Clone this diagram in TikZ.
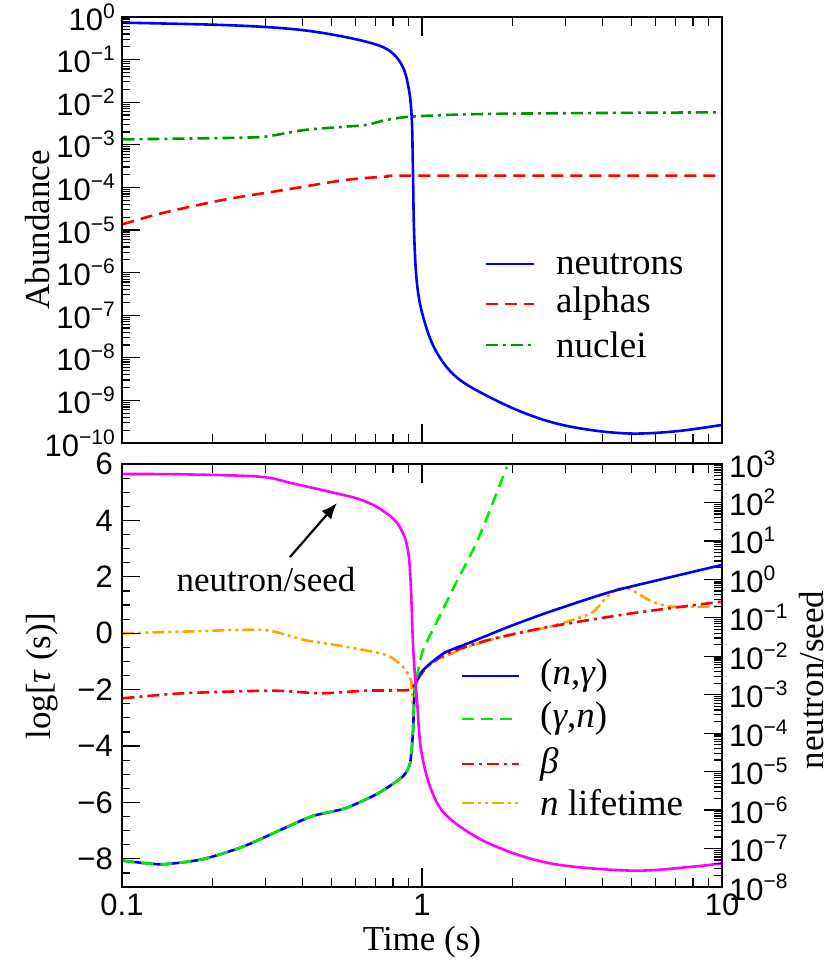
\documentclass[tikz,border=0pt]{standalone}
\usepackage{fontspec}
\setmainfont{Liberation Serif}
\newfontfamily\ticksf{Liberation Sans}
\usetikzlibrary{arrows.meta}
\begin{document}
\begin{tikzpicture}[x=1pt,y=-1pt,
  curve/.style={line width=2.6pt,line join=round},
  frame/.style={line width=2.6pt},
  tck/.style={line width=1.2pt},
  dsh/.style={dash pattern=on 12pt off 7pt},
  dashdot/.style={dash pattern=on 12pt off 5pt on 3pt off 5pt},
  dashdotdot/.style={dash pattern=on 12pt off 4pt on 3pt off 4pt on 3pt off 4pt},
  ticklab/.style={font=\ticksf\fontsize{31}{31}\selectfont,inner sep=1pt},
  titlelab/.style={font=\fontsize{35}{35}\selectfont},
  leglab/.style={font=\fontsize{37}{37}\selectfont,anchor=west,inner sep=0pt}]
\definecolor{cblue}{RGB}{0,0,255}
\definecolor{cred}{RGB}{255,0,0}
\definecolor{cdgreen}{RGB}{0,150,0}
\definecolor{cgreen}{RGB}{0,235,0}
\definecolor{cmag}{RGB}{255,0,255}
\definecolor{corange}{RGB}{255,165,0}
\useasboundingbox (0,0) rectangle (830,965);
% ---------- top panel curves ----------
\begin{scope}[shift={(100,0)},xscale=0.409,yscale=0.3333]
\draw[curve,cdgreen,dashdot] plot[smooth,tension=0.5] coordinates {(55,418)(200,416)(380,412)(430,405)(500,390)(600,380)(650,375)(700,360)(760,350)(900,343)(1100,340)(1520,337)};
\draw[curve,cred,dsh] plot[smooth,tension=0.5] coordinates {(55,673)(150,640)(300,600)(450,570)(600,540)(700,530)(770,527)(1520,527)};
\draw[curve,cblue] plot[smooth,tension=0.6] coordinates {(55,68)(300,75)(450,85)(550,100)(650,125)(705,150)(738,195)(754,260)(762,350)(765,500)(768,700)(775,850)(790,950)(820,1050)(870,1130)(950,1190)(1050,1245)(1150,1280)(1280,1300)(1400,1295)(1520,1275)};
\end{scope}
% ---------- bottom panel curves ----------
\begin{scope}[shift={(100,450)},xscale=0.409,yscale=0.3333]
\draw[curve,corange,dashdotdot] plot[smooth,tension=0.4] coordinates {(55,550)(200,545)(400,540)(500,570)(600,590)(700,615)(740,650)(760,690)(765,760)(770,720)(780,680)(810,640)(900,590)(1000,555)(1100,530)(1200,490)(1240,440)(1270,415)(1300,420)(1350,455)(1400,470)(1520,470)};
\draw[curve,cred,dashdot] plot[smooth,tension=0.4] coordinates {(55,745)(200,730)(420,722)(540,730)(650,722)(755,720)(770,700)(800,650)(850,610)(950,570)(1100,530)(1300,490)(1520,455)};
\draw[curve,cblue] plot[smooth,tension=0.4] coordinates {(55,1232)(150,1243)(250,1228)(350,1190)(450,1135)(520,1098)(600,1075)(680,1030)(740,980)(758,940)(765,850)(768,760)(772,700)(790,660)(840,610)(900,580)(1000,530)(1100,485)(1250,425)(1400,380)(1520,345)};
\draw[curve,cgreen,dsh] plot[smooth,tension=0.4] coordinates {(55,1232)(150,1243)(250,1228)(350,1190)(450,1135)(520,1098)(600,1075)(680,1030)(740,980)(758,940)(765,850)(768,760)(775,680)(790,600)(830,500)(870,400)(920,280)(960,160)(995,50)};
\draw[curve,cmag] plot[smooth,tension=0.55] coordinates {(55,72)(200,73)(390,80)(470,100)(560,125)(640,150)(695,185)(735,235)(756,330)(766,600)(775,750)(785,900)(810,1020)(850,1100)(950,1180)(1100,1240)(1300,1262)(1450,1250)(1520,1240)};
\end{scope}
% ---------- frames ----------
\draw[frame] (122,17) rectangle (722,443);
\draw[frame] (122,464) rectangle (722,887);
% x ticks
\foreach \yb/\yt in {443/17,887/464}{
  \foreach \d in {0,1}{
    \foreach \m in {2,...,9}{
      \pgfmathsetmacro\xx{122+300*(\d+log10(\m))}
      \draw[tck] (\xx,\yb)--++(0,-9);
      \draw[tck] (\xx,\yt)--++(0,9);
    }}
  \draw[tck] (422,\yb)--++(0,-19);
  \draw[tck] (422,\yt)--++(0,19);
}
% top left y ticks
\foreach \e in {-10,...,-1}{
  \foreach \m in {2,...,9}{
    \pgfmathsetmacro\yy{17-42.6*(\e+log10(\m))}
    \draw[tck] (122,\yy)--++(8,0);
  }}
\node[ticklab,anchor=east] (tl0) at (116,17) {10\raisebox{12pt}{\fontsize{21}{21}\selectfont 0}};
\draw[tck] (122,17)--++(18,0);
\foreach \e in {1,...,10}{
  \pgfmathsetmacro\yy{17+42.6*\e}
  \draw[tck] (122,\yy)--++(18,0);
  \node[ticklab,anchor=east] (tl\e) at (116,\yy) {10\raisebox{12pt}{\fontsize{21}{21}\selectfont −\e}};
}
% bottom left y ticks
\foreach \k in {0,...,29}{
  \pgfmathsetmacro\yy{464+14.1*\k}
  \draw[tck] (122,\yy)--++(8,0);
}
\foreach \v in {6,4,2,0,-2,-4,-6,-8}{
  \pgfmathsetmacro\yy{464+28.2*(6-\v)}
  \draw[tck] (122,\yy)--++(18,0);
}
\node[ticklab,anchor=east] (b6) at (114,464) {6};
\node[ticklab,anchor=east] (b4) at (114,520.4) {4};
\node[ticklab,anchor=east] (b2) at (114,576.8) {2};
\node[ticklab,anchor=east] (b0) at (114,633.2) {0};
\node[ticklab,anchor=east] (bm2) at (114,689.6) {−2};
\node[ticklab,anchor=east] (bm4) at (114,746) {−4};
\node[ticklab,anchor=east] (bm6) at (114,802.4) {−6};
\node[ticklab,anchor=east] (bm8) at (114,858.8) {−8};
% bottom right y ticks
\foreach \e in {-8,...,2}{
  \foreach \m in {2,...,9}{
    \pgfmathsetmacro\yy{464+38.45*(3-\e-log10(\m))}
    \draw[tck] (722,\yy)--++(-8,0);
  }}
\foreach \e in {-8,...,3}{
  \pgfmathsetmacro\yy{464+38.45*(3-\e)}
  \draw[tck] (722,\yy)--++(-18,0);
}
\foreach \e in {3,2,1,0}{
  \pgfmathsetmacro\yy{464+38.45*(3-\e)}
  \node[ticklab,anchor=west] (r\e) at (728,\yy) {10\raisebox{12pt}{\fontsize{21}{21}\selectfont \e}};
}
\foreach \e in {1,...,8}{
  \pgfmathsetmacro\yy{464+38.45*(3+\e)}
  \node[ticklab,anchor=west] (rm\e) at (728,\yy) {10\raisebox{12pt}{\fontsize{21}{21}\selectfont −\e}};
}
% x labels
\node[ticklab,anchor=north] (x01) at (122,893) {0.1};
\node[ticklab,anchor=north] (x1) at (422,893) {1};
\node[ticklab,anchor=north] (x10) at (722,893) {10};
\node[titlelab] (xt) at (422,942) {Time (s)};
\node[titlelab,rotate=90] (yt1) at (38,230) {Abundance};
\node[titlelab,rotate=90] (yt2) at (42,676) {log[\textit{τ} (s)]};
\node[titlelab,rotate=90] (yt3) at (812,680) {neutron/seed};
% top legend
\draw[curve,cblue] (486,264)--(534,264);
\draw[curve,cred,dsh] (486,304)--(534,304);
\draw[curve,cdgreen,dashdot] (486,345)--(534,345);
\node[leglab] (l1) at (556,264) {neutrons};
\node[leglab] (l2) at (556,304) {alphas};
\node[leglab] (l3) at (556,345) {nuclei};
% bottom legend
\draw[curve,cblue] (462,676)--(519,676);
\draw[curve,cgreen,dsh] (462,719)--(519,719);
\draw[curve,cred,dashdot] (462,764)--(519,764);
\draw[curve,corange,dashdotdot] (462,803)--(519,803);
\node[leglab] (m1) at (540,676) {(\textit{n},\textit{γ})};
\node[leglab] (m2) at (540,719) {(\textit{γ},\textit{n})};
\node[leglab] (m3) at (540,764) {\textit{β}};
\node[leglab] (m4) at (540,803) {\textit{n} lifetime};
% annotation
\node[font=\fontsize{35}{35}\selectfont] (ns) at (266,580) {neutron/seed};
\coordinate (arT) at (337,503);
\coordinate (arS) at (290,557);
\draw[line width=2.2pt,-{Latex[length=16pt,width=13pt]}] (arS)--(arT);
\end{tikzpicture}
\end{document}
